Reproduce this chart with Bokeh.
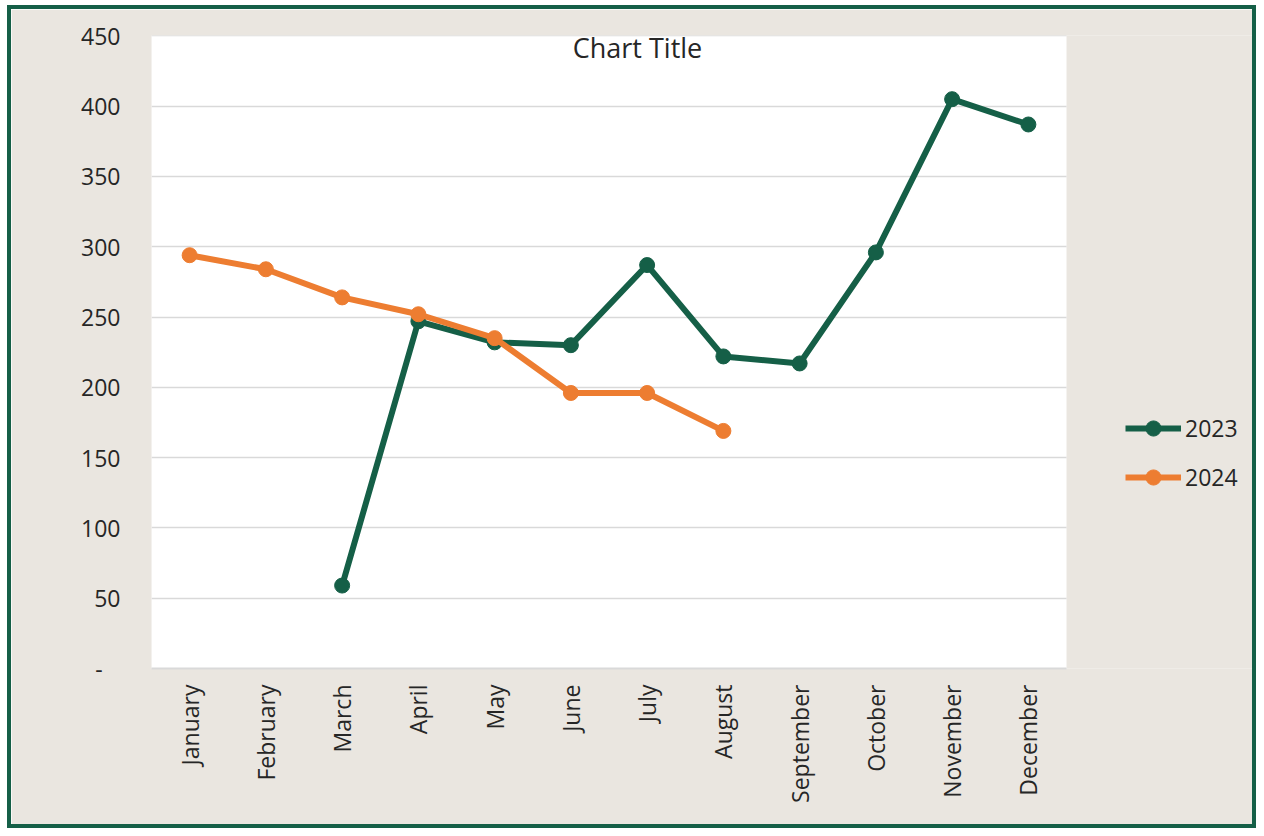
import numpy as np
from bokeh.plotting import figure
from bokeh.models import (Range1d, Legend, LegendItem, Label, ColumnDataSource,
                          FixedTicker, BoxAnnotation)
from bokeh.embed import file_html
from bokeh.resources import INLINE

months = ["January", "February", "March", "April", "May", "June", "July",
          "August", "September", "October", "November", "December"]
y2023 = [np.nan, np.nan, 59, 247, 232, 230, 287, 222, 217, 296, 405, 387]
y2024 = [294, 284, 264, 252, 235, 196, 196, 169, np.nan, np.nan, np.nan, np.nan]
y_ticks = [0, 50, 100, 150, 200, 250, 300, 350, 400, 450]

GREEN = "#155F47"
ORANGE = "#ED7D31"
BG = "#EAE6E0"
TXT = "#262626"
FONT = "Open Sans"

pos = list(range(1, len(months) + 1))
x_lo, x_hi = 0.5, len(months) + 0.5
PLOT_W, FRAME_W = 915, 1109
x_end = x_lo + (x_hi - x_lo) * FRAME_W / PLOT_W

p = figure(x_range=Range1d(x_lo, x_end), y_range=Range1d(0, 450.3),
           width=1249, height=823,
           output_backend="svg", toolbar_location=None,
           min_border_left=140, min_border_right=0, min_border_top=26,
           min_border_bottom=164)
p.styles = {"border": f"4px solid {GREEN}", "margin-left": "7px",
            "margin-top": "5px"}
p.background_fill_color = BG
p.border_fill_color = BG
p.outline_line_color = None

p.add_layout(BoxAnnotation(left=x_lo, right=x_hi, bottom=0, top=450.3,
                           fill_color="white", fill_alpha=1, line_color=None,
                           level="image"))

p.yaxis.ticker = y_ticks
p.yaxis.major_label_overrides = {0: "-\u00a0\u00a0\u00a0"}
p.yaxis.axis_line_color = None
p.yaxis.major_tick_line_color = None
p.yaxis.minor_tick_line_color = None
p.yaxis.major_tick_out = 0
p.yaxis.major_label_standoff = 31
p.yaxis.major_label_text_font = FONT
p.yaxis.major_label_text_font_size = "23px"
p.yaxis.major_label_text_color = TXT

p.xaxis.ticker = FixedTicker(ticks=pos)
p.xaxis.major_label_overrides = {i: m for i, m in zip(pos, months)}
p.xaxis.bounds = (x_lo, x_hi)
p.xaxis.axis_line_color = "#D9D9D9"
p.xaxis.axis_line_width = 2
p.xaxis.major_tick_line_color = None
p.xaxis.minor_tick_line_color = None
p.xaxis.major_tick_out = 0
p.xaxis.major_label_standoff = 16
p.xaxis.major_label_orientation = np.pi / 2
p.xaxis.major_label_text_font = FONT
p.xaxis.major_label_text_font_size = "23px"
p.xaxis.major_label_text_color = TXT

p.xgrid.grid_line_color = None
p.ygrid.grid_line_color = "#D9D9D9"
p.ygrid.grid_line_width = 1.5
p.ygrid.cross_bounds = (x_lo, x_hi)

src = ColumnDataSource(dict(x=pos, a=y2023, b=y2024))
l1 = p.line("x", "a", source=src, line_color=GREEN, line_width=6)
s1 = p.scatter("x", "a", source=src, marker="circle", size=15,
               fill_color=GREEN, line_color=GREEN)
l2 = p.line("x", "b", source=src, line_color=ORANGE, line_width=6)
s2 = p.scatter("x", "b", source=src, marker="circle", size=15,
               fill_color=ORANGE, line_color=ORANGE)

legend = Legend(items=[LegendItem(label="2023", renderers=[l1, s1]),
                       LegendItem(label="2024", renderers=[l2, s2])],
                location=(974, 172), padding=0, margin=0, spacing=11,
                glyph_width=56, glyph_height=38, label_height=38,
                label_standoff=4, label_text_font=FONT,
                label_text_font_size="23px", label_text_color=TXT,
                background_fill_alpha=0, border_line_alpha=0)
p.add_layout(legend, "center")

title = Label(x=486, y=621, x_units="screen", y_units="screen",
              text="Chart Title", text_align="center", text_baseline="middle",
              text_font=FONT, text_font_size="27px", text_color=TXT)
p.add_layout(title)

open("out.html", "w").write(file_html(p, INLINE))
